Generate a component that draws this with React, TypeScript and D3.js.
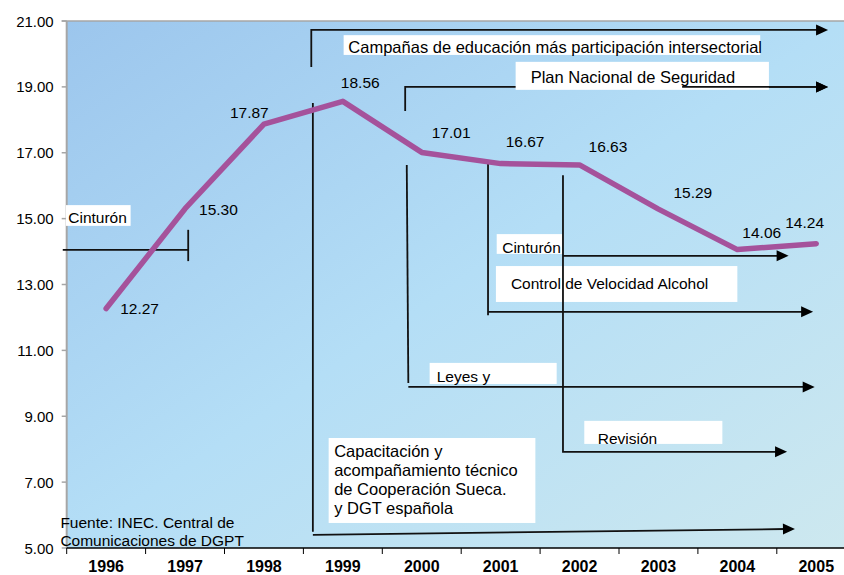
import React from 'react';
import * as d3 from 'd3';

const years = ['1996', '1997', '1998', '1999', '2000', '2001', '2002', '2003', '2004', '2005'];
const rates = [12.27, 15.3, 17.87, 18.56, 17.01, 16.67, 16.63, 15.29, 14.06, 14.24];
const yTicks = [5, 7, 9, 11, 13, 15, 17, 19, 21];
const labelOffsets = [[14, 5], [14, 6], [-34, -6], [-2, -13], [10, -14], [5, -17], [9, -13], [15, -11], [5, -12], [-31, -16]];

// annotation guides in [year, value]
const underLines = [
  { pts: [[1999.79, 18.27], [1999.79, 19.0], [2005.15, 19.0]], arrow: true },
];
const overLines = [
  { pts: [[1995.45, 14.05], [1997.04, 14.05]], arrow: false },
  { pts: [[1997.04, 14.66], [1997.04, 13.71]], arrow: false },
  { pts: [[1998.6, 19.6], [1998.6, 20.73], [2005.15, 20.73]], arrow: true },
  { pts: [[2003.3, 19.0], [2005.15, 19.0]], arrow: true },
  { pts: [[1998.62, 18.51], [1998.62, 5.49]], arrow: false },
  { pts: [[1998.62, 5.4], [2004.73, 5.58]], arrow: true },
  { pts: [[1999.81, 16.63], [1999.83, 10.01]], arrow: false },
  { pts: [[1999.83, 9.89], [2004.98, 9.89]], arrow: true },
  { pts: [[2000.84, 16.69], [2000.84, 12.07]], arrow: false },
  { pts: [[2000.84, 12.17], [2004.96, 12.17]], arrow: true },
  { pts: [[2001.79, 16.32], [2001.79, 7.92], [2004.63, 7.92]], arrow: true },
  { pts: [[2001.79, 13.87], [2004.65, 13.87]], arrow: true },
];
const boxes = [
  [1995.49, 1996.31, 15.41, 14.78],
  [1999.01, 2004.29, 20.57, 19.97],
  [2001.19, 2004.4, 19.76, 18.91],
  [1998.82, 2001.44, 8.34, 5.76],
  [2000.1, 2001.71, 10.62, 9.98],
  [2002.06, 2003.81, 8.86, 8.16],
  [2000.94, 2004.0, 13.56, 12.47],
  [2000.95, 2001.79, 14.53, 13.93],
];
const notes = [
  { lines: ['Cinturón'], x: 1995.52, y: 14.87, size: 15.5 },
  { lines: ['Campañas de educación más participación intersectorial'], x: 1999.07, y: 20.03, size: 16.5 },
  { lines: ['Plan Nacional de Seguridad'], x: 2001.38, y: 19.12, size: 16.5 },
  { lines: ['Capacitación y', 'acompañamiento técnico', 'de Cooperación Sueca.', 'y DGT española'], x: 1998.89, y: 7.76, size: 16.5 },
  { lines: ['Leyes y'], x: 2000.19, y: 10.04, size: 15.5 },
  { lines: ['Revisión'], x: 2002.23, y: 8.16, size: 15.5 },
  { lines: ['Control de Velocidad Alcohol'], x: 2001.13, y: 12.86, size: 15.5 },
  { lines: ['Cinturón'], x: 2001.02, y: 13.96, size: 15.5 },
];
const source = { lines: ['Fuente: INEC. Central de', 'Comunicaciones de DGPT'], x: 1995.42, y: 5.61, size: 15.5 };

const W = 844;
const H = 575;
const left = 66.7;
const right = 855.7;
const top = 21;
const bottom = 548;
const font = '"Liberation Sans", Arial, sans-serif';

export default function App() {
  const x = d3.scaleBand<string>().domain(years).range([left, right]);
  const bw = x.bandwidth();
  const yearX = d3
    .scaleLinear()
    .domain([1996, 2005])
    .range([(x('1996') as number) + bw / 2, (x('2005') as number) + bw / 2]);
  const y = d3.scaleLinear().domain([5, 21]).range([bottom, top]);

  const line = d3
    .line<number>()
    .x((_, i) => (x(years[i]) as number) + bw / 2)
    .y((d) => y(d));

  const guide = d3
    .line<number[]>()
    .x((p) => yearX(p[0]))
    .y((p) => y(p[1]));

  const arrowHead = (pts: number[][]) => {
    const a = pts[pts.length - 2];
    const b = pts[pts.length - 1];
    const x1 = yearX(a[0]), y1 = y(a[1]), x2 = yearX(b[0]), y2 = y(b[1]);
    const ang = Math.atan2(y2 - y1, x2 - x1);
    const L = 12, hw = 5.5;
    const bx = x2 - L * Math.cos(ang), by = y2 - L * Math.sin(ang);
    const px = -Math.sin(ang) * hw, py = Math.cos(ang) * hw;
    return `M${x2},${y2}L${bx + px},${by + py}L${bx - px},${by - py}Z`;
  };

  const renderGuides = (list: typeof overLines, key: string) =>
    list.map((g, i) => (
      <g key={key + i}>
        <path
          d={guide(g.pts.map((p, j) => {
            if (g.arrow && j === g.pts.length - 1) {
              const a = g.pts[j - 1];
              const t = 10 / Math.hypot(yearX(p[0]) - yearX(a[0]), y(p[1]) - y(a[1]));
              return [p[0] - (p[0] - a[0]) * t, p[1] - (p[1] - a[1]) * t];
            }
            return p;
          })) as string}
          fill="none"
          stroke="#111"
          strokeWidth={1.8}
        />
        {g.arrow && <path d={arrowHead(g.pts)} fill="#000" />}
      </g>
    ));

  return (
    <svg width={W} height={H} style={{ position: 'absolute', left: 0, top: 0, fontFamily: font }}>
      <defs>
        <linearGradient id="bg" x1="0" y1="0" x2="1" y2="1">
          <stop offset="0" stopColor="#9cc6ed" />
          <stop offset="0.5" stopColor="#b4def6" />
          <stop offset="1" stopColor="#cde8ef" />
        </linearGradient>
      </defs>
      <rect x={0} y={0} width={W} height={H} fill="#fff" />
      <rect x={left} y={top} width={W - left} height={bottom - top} fill="url(#bg)" />
      <line x1={left - 5} x2={W} y1={top} y2={top} stroke="#a6a6a6" strokeWidth={1.5} />
      <line x1={left} x2={left} y1={top} y2={bottom} stroke="#a6a6a6" strokeWidth={2} />

      {yTicks.map((t) => (
        <g key={t}>
          <line x1={left - 5} x2={left} y1={y(t)} y2={y(t)} stroke="#a6a6a6" strokeWidth={1.5} />
          <text x={left - 13} y={y(t) + 5.5} textAnchor="end" fontSize={15} fill="#000">
            {t.toFixed(2)}
          </text>
        </g>
      ))}

      <line x1={left} x2={W} y1={bottom} y2={bottom} stroke="#000" strokeWidth={1.5} />
      {years.map((yr) => (
        <g key={yr}>
          <line x1={x(yr) as number} x2={x(yr) as number} y1={bottom} y2={bottom + 6} stroke="#000" strokeWidth={1} />
          <text x={(x(yr) as number) + bw / 2} y={bottom + 24} textAnchor="middle" fontSize={16} fontWeight="bold" fill="#000">
            {yr}
          </text>
        </g>
      ))}

      {renderGuides(underLines, 'u')}

      {boxes.map((b, i) => (
        <rect
          key={'b' + i}
          x={yearX(b[0])}
          y={y(b[2])}
          width={yearX(b[1]) - yearX(b[0])}
          height={y(b[3]) - y(b[2])}
          fill="#fff"
        />
      ))}

      {notes.map((n, i) => (
        <text key={'n' + i} x={yearX(n.x)} y={y(n.y)} fontSize={n.size} fill="#000">
          {n.lines.map((l, j) => (
            <tspan key={j} x={yearX(n.x)} dy={j === 0 ? 0 : 19}>
              {l}
            </tspan>
          ))}
        </text>
      ))}

      {renderGuides(overLines, 'o')}

      <path d={line(rates) as string} fill="none" stroke="#a5529b" strokeWidth={5.5} strokeLinejoin="round" strokeLinecap="round" />
      {rates.map((r, i) => (
        <text
          key={'l' + i}
          x={(x(years[i]) as number) + bw / 2 + labelOffsets[i][0]}
          y={y(r) + labelOffsets[i][1]}
          fontSize={15.5}
          fill="#000"
        >
          {r.toFixed(2)}
        </text>
      ))}

      <text x={yearX(source.x)} y={y(source.y)} fontSize={source.size} fill="#000">
        {source.lines.map((l, j) => (
          <tspan key={j} x={yearX(source.x)} dy={j === 0 ? 0 : 18}>
            {l}
          </tspan>
        ))}
      </text>
    </svg>
  );
}
